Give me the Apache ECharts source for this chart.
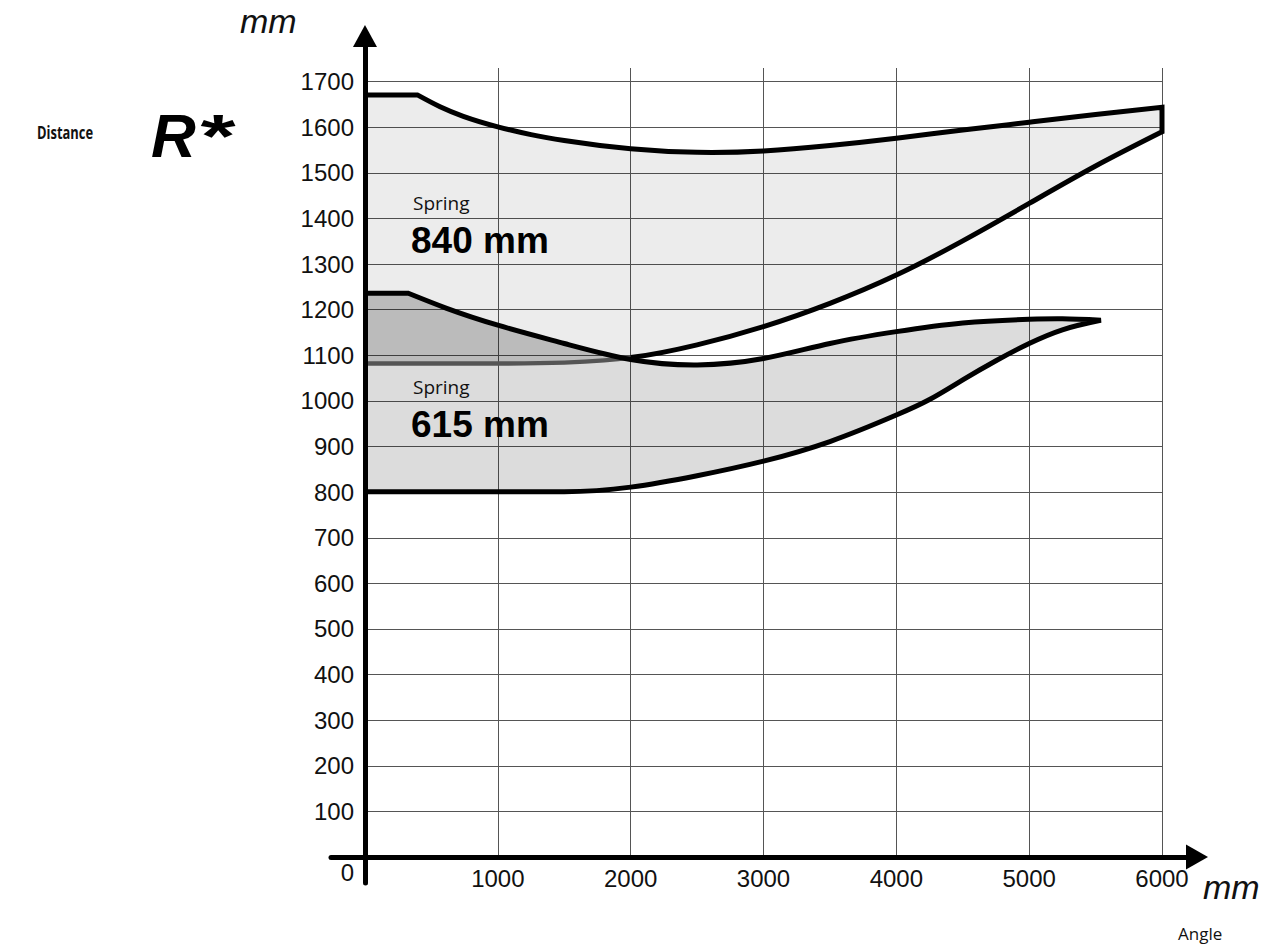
<!DOCTYPE html>
<html>
<head>
<meta charset="utf-8">
<script src="https://cdn.jsdelivr.net/npm/echarts@6/dist/echarts.min.js"></script>
<style>
html,body{margin:0;padding:0;background:#fff;}
#chart{width:1277px;height:948px;}
</style>
</head>
<body>
<div id="chart"></div>
<script>
// ---- data ----
const xTicks = [0, 1000, 2000, 3000, 4000, 5000, 6000];
const yTicks = [0, 100, 200, 300, 400, 500, 600, 700, 800, 900, 1000, 1100, 1200, 1300, 1400, 1500, 1600, 1700];

// Spring 840 mm region: upper boundary
const upperTopX = [0, 394, 565, 740, 1000, 1250, 1500, 2000, 2500, 3000, 3500, 4000, 4500, 5000, 5500, 6000];
const upperTopY = [1671, 1671, 1645, 1624, 1601, 1584, 1571, 1553, 1545, 1548, 1560, 1576, 1594, 1611, 1628, 1644];
// Spring 840 mm region: lower boundary
const upperBottomX = [0, 1000, 1500, 1800, 2000, 2500, 3000, 3500, 4000, 4500, 5000, 5500, 6000];
const upperBottomY = [1082, 1082, 1084, 1089, 1095, 1123, 1163, 1214, 1276, 1351, 1433, 1515, 1590];

// Spring 615 mm region: upper boundary
const lowerTopX = [0, 326, 615, 1000, 1500, 2000, 2500, 3000, 3500, 4000, 4500, 5000, 5250, 5540];
const lowerTopY = [1236, 1236, 1203, 1166, 1126, 1091, 1079, 1093, 1126, 1152, 1171, 1179, 1180, 1177];
// Spring 615 mm region: lower boundary
const lowerBottomX = [0, 1500, 2000, 2500, 3000, 3500, 4000, 4250, 4500, 4750, 5000, 5250, 5540];
const lowerBottomY = [801, 801, 811, 836, 868, 911, 969, 1003, 1046, 1088, 1126, 1156, 1177];

// ---- drawing helpers: C2 cubic splines through the read points (pixel space) ----
function splineTangents(P, m0, mn) {
  const n = P.length;
  if (n === 2) { const s = (P[1][1] - P[0][1]) / (P[1][0] - P[0][0]); return [m0 != null ? m0 : s, mn != null ? mn : s]; }
  const h = [], s = [];
  for (let i = 0; i < n - 1; i++) { h[i] = P[i + 1][0] - P[i][0]; s[i] = (P[i + 1][1] - P[i][1]) / h[i]; }
  const a = new Array(n).fill(0), b = new Array(n).fill(0), c = new Array(n).fill(0), d = new Array(n).fill(0);
  if (m0 == null) { b[0] = 2; c[0] = 1; d[0] = 3 * s[0]; } else { b[0] = 1; c[0] = 0; d[0] = m0; }
  for (let i = 1; i < n - 1; i++) {
    a[i] = h[i]; b[i] = 2 * (h[i - 1] + h[i]); c[i] = h[i - 1];
    d[i] = 3 * (h[i] * s[i - 1] + h[i - 1] * s[i]);
  }
  if (mn == null) { a[n - 1] = 1; b[n - 1] = 2; d[n - 1] = 3 * s[n - 2]; } else { a[n - 1] = 0; b[n - 1] = 1; d[n - 1] = mn; }
  for (let i = 1; i < n; i++) { const w = a[i] / b[i - 1]; b[i] -= w * c[i - 1]; d[i] -= w * d[i - 1]; }
  const m = new Array(n);
  m[n - 1] = d[n - 1] / b[n - 1];
  for (let i = n - 2; i >= 0; i--) m[i] = (d[i] - c[i] * m[i + 1]) / b[i];
  return m;
}
// corner: index where a straight flat run ends; flatJoin: curve leaves the flat run tangentially
function segments(P, corner, flatJoin) {
  const pieces = corner ? [[P.slice(0, corner + 1), 0, 0], [P.slice(corner), flatJoin ? 0 : null, null]] : [[P, null, null]];
  const out = [];
  pieces.forEach(([Q, m0, mn]) => {
    const m = splineTangents(Q, m0, mn);
    for (let i = 0; i < Q.length - 1; i++) {
      const h = (Q[i + 1][0] - Q[i][0]) / 3;
      out.push({ p0: Q[i], p1: Q[i + 1], c1: [Q[i][0] + h, Q[i][1] + m[i] * h], c2: [Q[i + 1][0] - h, Q[i + 1][1] - m[i + 1] * h] });
    }
  });
  return out;
}
const f = p => p[0].toFixed(2) + ' ' + p[1].toFixed(2);
const fwd = S => S.map(s => 'C' + f(s.c1) + ' ' + f(s.c2) + ' ' + f(s.p1)).join(' ');
const rev = S => S.slice().reverse().map(s => 'C' + f(s.c2) + ' ' + f(s.c1) + ' ' + f(s.p0)).join(' ');

const FONT = '"Liberation Sans", Arial, sans-serif';
const OPEN = '"Open Sans", sans-serif';
const LW = 5;

function renderRegions(params, api) {
  const px = (xs, ys) => xs.map((x, i) => api.coord([x, ys[i]]));
  const uT = segments(px(upperTopX, upperTopY), 1, false);
  const uB = segments(px(upperBottomX, upperBottomY), 1, true);
  const lT = segments(px(lowerTopX, lowerTopY), 1, false);
  const lB = segments(px(lowerBottomX, lowerBottomY), 1, true);
  const grayN = upperBottomX.indexOf(2000);      // gray part of the 840 mm lower edge
  const ovN = lowerTopX.indexOf(2000);
  const uTop0 = uT[0].p0, uBEnd = uB[uB.length - 1].p1, lTop0 = lT[0].p0;

  const upperFill = 'M' + f(uTop0) + ' ' + fwd(uT) + ' L' + f(uBEnd) + ' ' + rev(uB) + ' Z';
  const lowerFill = 'M' + f(lTop0) + ' ' + fwd(lT) + ' ' + rev(lB) + ' Z';
  const overlapFill = 'M' + f(lTop0) + ' ' + fwd(lT.slice(0, ovN)) + ' L' + f(uB[grayN - 1].p1) + ' ' + rev(uB.slice(0, grayN)) + ' Z';
  const upperStroke = 'M' + f(uTop0) + ' ' + fwd(uT) + ' L' + f(uBEnd) + ' ' + rev(uB.slice(grayN));
  const grayStroke = 'M' + f(uB[0].p0) + ' ' + fwd(uB.slice(0, grayN));
  const lowerStroke = 'M' + f(lTop0) + ' ' + fwd(lT) + ' ' + rev(lB);

  const fill = (d, color) => ({ type: 'path', shape: { pathData: d }, style: { fill: color, stroke: null } });
  const line = (d, color, w) => ({ type: 'path', shape: { pathData: d },
    style: { fill: null, stroke: color, lineWidth: w, lineJoin: 'miter', miterLimit: 10, lineCap: 'butt' } });
  return {
    type: 'group',
    children: [
      fill(upperFill, 'rgba(0,6,0,0.075)'),
      fill(lowerFill, 'rgba(0,0,2,0.137)'),
      fill(overlapFill, 'rgba(0,0,0,0.075)'),
      line(grayStroke, '#555555', 4.4),
      line(upperStroke, '#000000', LW),
      line(lowerStroke, '#000000', LW)
    ]
  };
}

const chart = echarts.init(document.getElementById('chart'), null, { renderer: 'svg' });
chart.setOption({
  animation: false,
  backgroundColor: '#ffffff',
  grid: [
    { left: 365, right: 115, top: 68, bottom: 91 },
    { left: 331, right: 80, top: 36, bottom: 65 }
  ],
  xAxis: [
    {
      gridIndex: 0, type: 'value', min: 0, max: 6000, interval: 1000,
      axisLine: { show: false }, axisTick: { show: false },
      splitLine: { show: true, lineStyle: { color: '#555', width: 1 } },
      axisLabel: {
        margin: 9, fontSize: 24, fontFamily: FONT, color: '#111', showMinLabel: false,
        formatter: v => (xTicks.indexOf(v) > 0 ? String(v) : '')
      }
    },
    {
      gridIndex: 1, type: 'value', min: -256, max: 6268, z: 6,
      axisLine: { show: true, onZero: true, symbol: ['none', 'triangle'], symbolSize: [25, 22],
        lineStyle: { color: '#000', width: 5, cap: 'round' } },
      axisTick: { show: false }, axisLabel: { show: false }, splitLine: { show: false }
    }
  ],
  yAxis: [
    {
      gridIndex: 0, type: 'value', min: 0, max: 1730, interval: 100,
      axisLine: { show: false }, axisTick: { show: false },
      splitLine: { show: true, showMaxLine: false, lineStyle: { color: '#555', width: 1 } },
      axisLabel: {
        margin: 11, fontSize: 24, fontFamily: FONT, color: '#111', showMaxLabel: false,
        formatter: v => (v === 0 ? '{z|0}' : (yTicks.indexOf(v) >= 0 ? String(v) : '')),
        rich: { z: { fontSize: 24, fontFamily: FONT, color: '#111', padding: [30, 0, 0, 0] } }
      }
    },
    {
      gridIndex: 1, type: 'value', min: -57, max: 1800, z: 6,
      axisLine: { show: true, onZero: true, symbol: ['none', 'triangle'], symbolSize: [24, 22],
        lineStyle: { color: '#000', width: 5, cap: 'round' } },
      axisTick: { show: false }, axisLabel: { show: false }, splitLine: { show: false }
    }
  ],
  series: [
    {
      name: 'Spring regions', type: 'custom', coordinateSystem: 'cartesian2d',
      xAxisIndex: 0, yAxisIndex: 0, data: [[0, 0]], silent: true, z: 2,
      renderItem: renderRegions
    }
  ],
  graphic: [
    { type: 'text', z: 10, style: { text: 'mm', x: 240, y: 21, verticalAlign: 'middle', font: 'italic 34px ' + FONT, fill: '#111' } },
    { type: 'text', z: 10, style: { text: 'mm', x: 1203, y: 887, verticalAlign: 'middle', font: 'italic 34px ' + FONT, fill: '#111' } },
    { type: 'text', z: 10, style: { text: 'Angle', x: 1178, y: 933, verticalAlign: 'middle', font: '17px ' + OPEN, fill: '#111' } },
    { type: 'text', z: 10, x: 37, y: 132.7, scaleX: 0.76, style: { text: 'Distance', x: 0, y: 0, verticalAlign: 'middle', font: 'bold 17px ' + OPEN, fill: '#111' } },
    { type: 'text', z: 10, style: { text: 'R', x: 151, y: 135, verticalAlign: 'middle', font: 'italic bold 62px ' + FONT, fill: '#000' } },
    { type: 'text', z: 10, x: 197, y: 135, scaleX: 1.45, style: { text: '*', x: 0, y: 0, verticalAlign: 'middle', font: 'italic bold 62px ' + FONT, fill: '#000' } },
    { type: 'text', z: 10, style: { text: 'Spring', x: 413, y: 203, verticalAlign: 'middle', font: '19px ' + OPEN, fill: '#111' } },
    { type: 'text', z: 10, style: { text: '840 mm', x: 411, y: 240, verticalAlign: 'middle', font: 'bold 37px ' + FONT, fill: '#000' } },
    { type: 'text', z: 10, style: { text: 'Spring', x: 413, y: 387, verticalAlign: 'middle', font: '19px ' + OPEN, fill: '#111' } },
    { type: 'text', z: 10, style: { text: '615 mm', x: 411, y: 424, verticalAlign: 'middle', font: 'bold 37px ' + FONT, fill: '#000' } }
  ]
});
</script>
</body>
</html>
